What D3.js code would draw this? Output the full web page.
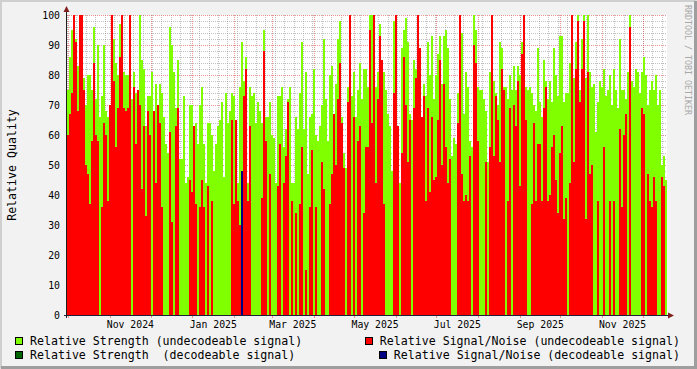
<!DOCTYPE html>
<html>
<head>
<meta charset="utf-8">
<script src="https://cdn.jsdelivr.net/npm/d3@7/dist/d3.min.js"></script>
<style>
body { margin: 0; background: #f2f2f2; }
svg { display: block; }
text { font-family: "DejaVu Sans Mono", monospace; }
</style>
</head>
<body>
<svg width="697" height="369"></svg>
<script>
// time range of the graph and number of consolidated points
var startDate = Date.UTC(2024, 8, 30),
    endDate = Date.UTC(2025, 11, 19),
    pointCount = 300;

// Relative Strength (undecodeable signal)
var strengthUndecodeable = [
  75,86,95,99,92,83,85,80,79,70, 80,80,75,96,72,90,66,73,90,68,
  66,70,97,92,84,80,97,98,81,80, 80,80,72,81,74,73,100,85,82,63,
  73,73,81,66,77,66,77,74,66,57,
  54,96,90,81,69,85,52,52,73,44, 46,70,70,52,64,57,70,76,57,44,
  64,64,60,48,57,63,65,71,46,74, 64,68,74,73,60,44,76,91,78,86,
  44,76,73,74,64,71,68,64,95,66,
  66,71,60,59,44,73,73,76,56,62, 72,76,44,44,66,62,74,91,62,81,
  47,66,67,82,60,58,63,70,92,72, 58,80,83,50,77,92,98,66,54,49,
  76,100,73,81,66,75,84,72,82,82,
  76,100,100,95,76,81,97,85,81,75, 67,63,48,98,92,46,44,89,95,99,
  91,67,65,85,82,91,83,66,77,73, 91,80,93,72,80,87,93,77,93,95,
  89,72,53,59,57,74,100,94,67,81,
  76,58,56,100,95,76,75,75,72,68, 51,81,100,78,74,70,91,89,76,76,
  72,80,75,83,75,83,80,91,90,76, 75,76,74,70,68,89,71,66,85,78,
  72,78,71,89,80,73,93,93,71,74,
  74,84,90,79,91,100,75,92,100,79, 100,81,76,77,61,71,78,76,82,73,
  75,80,70,82,75,69,92,75,75,72, 81,100,78,76,82,81,74,81,86,80,
  70,75,78,75,80,70,75,50,53,45
];

// Relative Signal/Noise (undecodeable signal), 0 = nothing drawn
var snrUndecodeable = [
  60,67,74,100,91,68,100,100,75,50, 47,37,58,84,60,58,0,36,64,60,
  38,70,100,78,56,69,86,100,69,68, 69,100,0,76,57,75,70,42,63,33,
  68,60,0,68,44,70,64,36,0,0,
  0,61,31,0,63,69,0,0,0,0, 0,45,41,63,37,0,36,45,36,0,
  43,0,38,0,0,0,0,0,0,0, 0,0,65,37,65,38,30,0,73,82,
  38,63,0,0,0,0,0,39,88,58,
  0,47,0,0,0,43,57,0,44,53, 71,0,38,0,34,0,37,56,0,15,
  0,36,55,0,36,0,0,51,42,0, 0,37,47,67,50,72,84,64,49,0,
  71,100,0,66,0,58,63,0,34,56,
  56,95,64,100,44,72,93,85,37,0, 0,0,0,74,100,63,0,54,86,70,
  51,65,0,69,79,100,89,66,73,38, 69,41,66,45,46,65,85,50,77,56,
  44,52,0,0,0,64,100,47,38,40,
  38,53,0,90,84,58,0,0,0,51, 0,56,100,53,73,65,51,82,75,0,
  38,69,0,70,63,78,43,87,100,65, 0,0,37,64,38,57,57,38,69,76,
  38,40,56,60,45,34,54,63,32,39,
  0,44,100,51,82,98,71,82,98,32, 81,47,50,0,0,38,0,0,56,0,
  0,38,0,38,0,0,62,36,60,67, 0,96,0,0,0,0,0,69,67,0,
  47,38,36,46,38,0,0,46,43,0
];

// decodeable samples are rare: [point index, value]
var strengthDecodeable = [];
var snrDecodeable = [[87, 48]];

var yTicks = [0, 10, 20, 30, 40, 50, 60, 70, 80, 90, 100];
var xLabelMonths = ["2024-11", "2025-01", "2025-03", "2025-05", "2025-07", "2025-09", "2025-11"];

var legendItems = [
  {label: "Relative Strength (undecodeable signal)", color: "#80ff00", col: 0, row: 0},
  {label: "Relative Strength  (decodeable signal)", color: "#006400", col: 0, row: 1},
  {label: "Relative Signal/Noise (undecodeable signal)", color: "#ff0000", col: 1, row: 0},
  {label: "Relative Signal/Noise (decodeable signal)", color: "#000080", col: 1, row: 1}
];

(function() {
var svg = d3.select("svg"),
    W = 697, H = 369,
    pL = 67, pR = 667, pT = 15, pB = 315,
    stepMs = (endDate - startDate) / pointCount,
    gridColor = "rgba(143,143,143,0.55)",
    mgridColor = "rgba(222,79,79,0.6)";

var x = d3.scaleUtc().domain([startDate, endDate]).range([pL, pR]),
    y = d3.scaleLinear().domain([0, 100]).range([pB, pT]);

function tAt(i) { return new Date(startDate + i * stepMs); }

// background and 3D shading
svg.append("rect").attr("width", W).attr("height", H).attr("fill", "#f2f2f2");
svg.append("path").attr("fill", "#cfcfcf")
    .attr("d", "M0,0H" + W + "L" + (W - 2) + ",2H2V" + (H - 2) + "L0," + H + "Z");
svg.append("rect").attr("x", W - 3).attr("y", 1).attr("width", 3).attr("height", H - 1).attr("fill", "#9e9e9e");
svg.append("rect").attr("x", 1).attr("y", H - 3).attr("width", W - 1).attr("height", 3).attr("fill", "#9e9e9e");

// canvas
svg.append("rect")
    .attr("x", pL).attr("y", pT)
    .attr("width", pR - pL).attr("height", pB - pT)
    .attr("fill", "#ffffff");

// grid, underneath the areas
var grid = svg.append("g").attr("shape-rendering", "crispEdges").attr("stroke-dasharray", "1,1");

var minorY = d3.range(0, 101, 2).filter(function(v) { return v % 10 !== 0; });
grid.selectAll(".hmin").data(minorY).enter().append("line")
    .attr("x1", pL).attr("x2", pR)
    .attr("y1", function(d) { return Math.round(y(d)) + 0.5; })
    .attr("y2", function(d) { return Math.round(y(d)) + 0.5; })
    .attr("stroke", gridColor);

var weeks = d3.utcMonday.range(new Date(startDate), new Date(endDate));
grid.selectAll(".vmin").data(weeks).enter().append("line")
    .attr("y1", pT).attr("y2", pB)
    .attr("x1", function(d) { return Math.round(x(d)) + 0.5; })
    .attr("x2", function(d) { return Math.round(x(d)) + 0.5; })
    .attr("stroke", gridColor);

grid.selectAll(".hmaj").data(yTicks.slice(1)).enter().append("line")
    .attr("x1", pL).attr("x2", pR)
    .attr("y1", function(d) { return Math.round(y(d)) + 0.5; })
    .attr("y2", function(d) { return Math.round(y(d)) + 0.5; })
    .attr("stroke", mgridColor);

var months = d3.utcMonth.range(new Date(startDate), new Date(endDate));
grid.selectAll(".vmaj").data(months).enter().append("line")
    .attr("y1", pT).attr("y2", pB)
    .attr("x1", function(d) { return Math.round(x(d)) + 0.5; })
    .attr("x2", function(d) { return Math.round(x(d)) + 0.5; })
    .attr("stroke", mgridColor);

var plot = svg.append("g").attr("shape-rendering", "crispEdges");

function drawBars(values, color) {
  plot.append("g").selectAll("rect")
    .data(values.map(function(v, i) { return {i: i, v: v}; }).filter(function(d) { return d.v > 0; }))
    .enter().append("rect")
    .attr("x", function(d) { return x(tAt(d.i)); })
    .attr("width", function(d) { return x(tAt(d.i + 1)) - x(tAt(d.i)); })
    .attr("y", function(d) { return y(d.v); })
    .attr("height", function(d) { return y(0) - y(d.v); })
    .attr("fill", color);
}

function drawSparse(list, color) {
  plot.append("g").selectAll("rect")
    .data(list)
    .enter().append("rect")
    .attr("x", function(d) { return x(tAt(d[0])); })
    .attr("width", function(d) { return x(tAt(d[0] + 1)) - x(tAt(d[0])); })
    .attr("y", function(d) { return y(d[1]); })
    .attr("height", function(d) { return y(0) - y(d[1]); })
    .attr("fill", color);
}

drawBars(strengthUndecodeable, "#80ff00");
drawBars(snrUndecodeable, "#ff0000");
drawSparse(strengthDecodeable, "#006400");
drawSparse(snrDecodeable, "#000080");

// tick marks under the x axis
svg.append("g").attr("shape-rendering", "crispEdges").selectAll("line")
    .data(months).enter().append("line")
    .attr("y1", pB).attr("y2", pB + 3)
    .attr("x1", function(d) { return Math.round(x(d)) + 0.5; })
    .attr("x2", function(d) { return Math.round(x(d)) + 0.5; })
    .attr("stroke", mgridColor);

// axes and arrows
svg.append("line").attr("x1", pL - 3).attr("x2", pR + 3)
    .attr("y1", pB + 0.5).attr("y2", pB + 0.5)
    .attr("stroke", "#1f1f3a").attr("shape-rendering", "crispEdges");
svg.append("line").attr("x1", pL - 0.5).attr("x2", pL - 0.5)
    .attr("y1", pB + 3).attr("y2", pT - 4)
    .attr("stroke", "#1f1f1f").attr("shape-rendering", "crispEdges");
svg.append("path").attr("fill", "#801f1f")
    .attr("d", "M" + (pR + 1) + "," + (pB - 2.5) + "L" + (pR + 7) + "," + (pB + 0.5) + "L" + (pR + 1) + "," + (pB + 3.5) + "Z");
svg.append("path").attr("fill", "#801f1f")
    .attr("d", "M" + (pL - 3.5) + "," + (pT - 3) + "L" + (pL - 0.5) + "," + (pT - 9) + "L" + (pL + 2.5) + "," + (pT - 3) + "Z");

// y tick labels
svg.append("g").selectAll("text").data(yTicks).enter().append("text")
    .attr("x", 60).attr("y", function(d) { return y(d) + 3.7; })
    .attr("text-anchor", "end")
    .attr("font-size", "9.8px")
    .attr("fill", "#000")
    .text(function(d) { return d; });

// x labels, centred in their month
var parseMonth = d3.utcParse("%Y-%m"), fmtMonth = d3.utcFormat("%b %Y");
svg.append("g").selectAll("text").data(xLabelMonths).enter().append("text")
    .attr("x", function(d) {
      var m = parseMonth(d);
      return (x(m) + x(d3.utcMonth.offset(m, 1))) / 2;
    })
    .attr("y", 328.3)
    .attr("text-anchor", "middle")
    .attr("font-size", "9.8px")
    .attr("fill", "#000")
    .text(function(d) { return fmtMonth(parseMonth(d)); });

// y axis title
svg.append("text")
    .attr("transform", "translate(16,165) rotate(-90)")
    .attr("text-anchor", "middle")
    .attr("font-size", "11.6px")
    .attr("fill", "#000")
    .text("Relative Quality");

// watermark
svg.append("text")
    .attr("transform", "translate(685,5) rotate(90)")
    .attr("font-size", "8.3px")
    .attr("fill", "#a8a8a8")
    .text("RRDTOOL / TOBI OETIKER");

// legend
var legend = svg.append("g").selectAll("g").data(legendItems).enter().append("g");
legend.append("text")
    .attr("x", function(d) { return d.col === 0 ? 30 : 680; })
    .attr("y", function(d) { return 345 + d.row * 14; })
    .attr("text-anchor", function(d) { return d.col === 0 ? "start" : "end"; })
    .attr("font-size", "11.6px")
    .attr("fill", "#000")
    .style("white-space", "pre")
    .text(function(d) { return d.label; });
legend.each(function(d) {
  var g = d3.select(this),
      w = g.select("text").node().getComputedTextLength(),
      tx = d.col === 0 ? 30 : 680 - w;
  g.append("rect")
    .attr("x", Math.round(tx - 15) + 0.5)
    .attr("y", 337.5 + d.row * 14)
    .attr("width", 7).attr("height", 7)
    .attr("fill", d.color)
    .attr("stroke", "#000")
    .attr("shape-rendering", "crispEdges");
});
})();
</script>
</body>
</html>
